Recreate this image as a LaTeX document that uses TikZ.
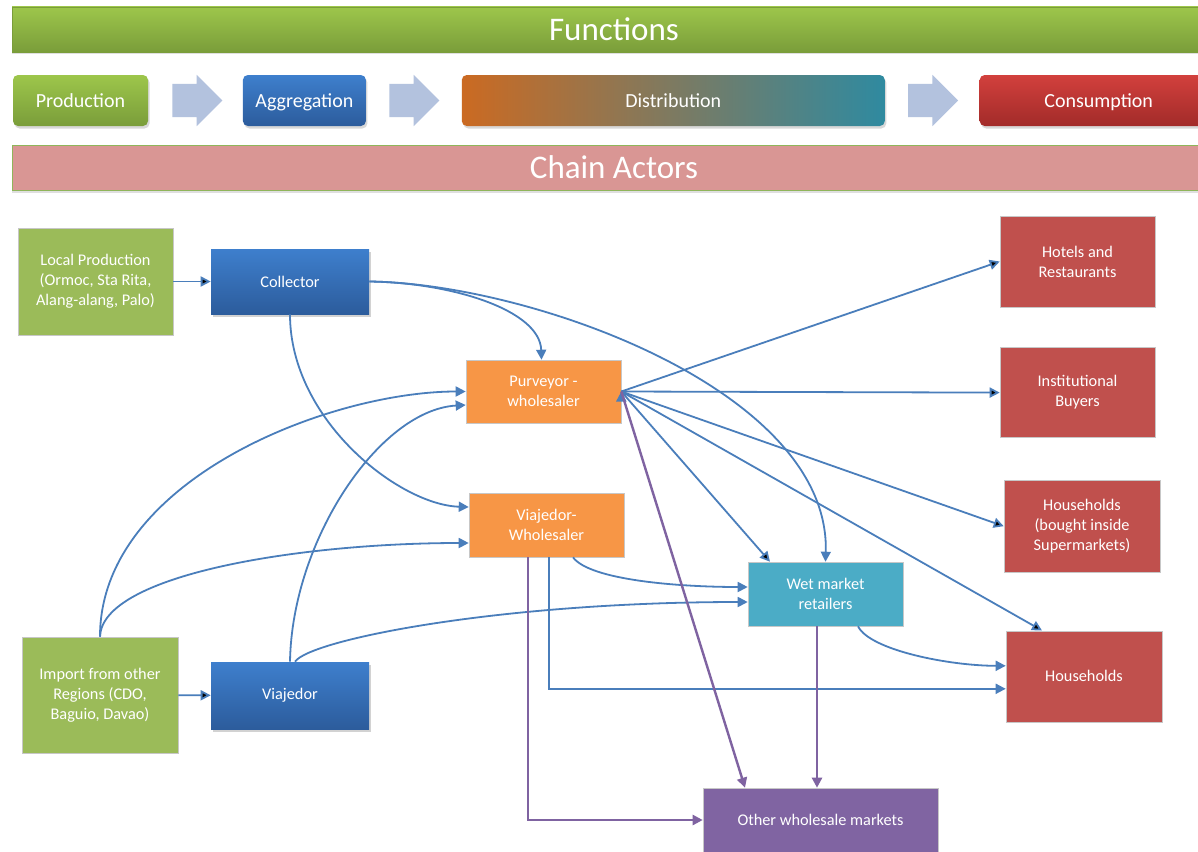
\documentclass[tikz,border=0pt]{standalone}
\usepackage{fontspec}
\setmainfont{Carlito}
\usepackage{xcolor}
\usetikzlibrary{arrows.meta,positioning,shapes.arrows,shadows}

\definecolor{flowblue}{HTML}{4A7EBB}
\definecolor{flowpurple}{HTML}{7F63A1}
\definecolor{prodgreen}{HTML}{9BBB59}
\definecolor{greentop}{HTML}{9DC64B}
\definecolor{greenbot}{HTML}{7A9D3A}
\definecolor{bluetop}{HTML}{3E7FCD}
\definecolor{bluebot}{HTML}{2C5C9C}
\definecolor{redtop}{HTML}{D2403D}
\definecolor{redbot}{HTML}{A22B29}
\definecolor{distorange}{HTML}{CB6A22}
\definecolor{distgray}{HTML}{877E7D}
\definecolor{distteal}{HTML}{2F8AA0}
\definecolor{arrowfill}{HTML}{B3C2DE}
\definecolor{actorpink}{HTML}{D99694}
\definecolor{bannerline}{HTML}{8FB55A}
\definecolor{wholeorange}{HTML}{F79646}
\definecolor{wetteal}{HTML}{4BACC6}
\definecolor{consred}{HTML}{C0504D}
\definecolor{otherpurple}{HTML}{8064A2}

\tikzset{>={Triangle[length=10pt,width=10pt]}}
\tikzset{actor node/.style={rectangle,draw=black!22,line width=0.6pt,text=white,align=center,inner sep=0pt,
            minimum width=155pt,font=\fontsize{16.3}{20}\selectfont},
         blue node/.style={actor node,draw=none,top color=bluetop,bottom color=bluebot,minimum width=158pt,
            drop shadow={shadow xshift=1.5pt,shadow yshift=-2.5pt,opacity=0.35}},
         func node/.style={rectangle,rounded corners=5pt,minimum height=51pt,inner sep=0pt,text=white,
            text height=18pt,text depth=4.5pt,
            font=\fontsize{20}{24}\selectfont,drop shadow={shadow xshift=1.5pt,shadow yshift=-2.5pt,opacity=0.3}},
         func arrow/.style={single arrow,fill=arrowfill,minimum height=50pt,inner xsep=0pt,inner ysep=16.5pt,
            single arrow head extend=9pt},
         banner/.style={rectangle,minimum width=1204pt,minimum height=45pt,inner sep=0pt,text=white,
            font=\fontsize{33}{36}\selectfont,drop shadow={shadow xshift=0pt,shadow yshift=-2.5pt,opacity=0.25}},
         flow/.style={draw=flowblue,line width=1.8pt},
         purple flow/.style={draw=flowpurple,line width=2.4pt},
            }

\begin{document}
\begin{tikzpicture}[x=1pt,y=1pt]

    \useasboundingbox[fill=white] (0,0) rectangle (1198,-851);

    % functions
    \node[banner,draw=greenbot,top color=greentop,bottom color=greenbot] (func) at (614,-29.5) {Functions};
    \node[func node,minimum width=135pt,top color=greentop,bottom color=greenbot] (prod) at (80.5,-100.5) {Production};
    \node[func arrow] (a1) [right=24pt of prod] {};
    \node[func node,minimum width=123pt,top color=bluetop,bottom color=bluebot] (aggr) [right=20pt of a1] {Aggregation};
    \node[func arrow] (a2) [right=23pt of aggr] {};
    \node[func node,minimum width=423pt,left color=distorange,middle color=distgray,right color=distteal] (dist) [right=22pt of a2] {Distribution};
    \node[func arrow] (a3) [right=23pt of dist] {};
    \node[func node,minimum width=238pt,top color=redtop,bottom color=redbot] (cons) [right=21pt of a3] {Consumption};

    % chain actors
    \node[banner,draw=bannerline,fill=actorpink] (chain) at (614,-167.5) {Chain Actors};

    \node[actor node,fill=prodgreen,minimum height=107pt] (local) at (95.5,-281.5) {Local Production\\(Ormoc, Sta Rita,\\Alang-alang, Palo)};
    \node[blue node,minimum height=65pt] (collector) at (290,-281.5) {Collector};
    \node[actor node,fill=prodgreen,minimum width=156pt,minimum height=116pt] (import) at (100,-695) {Import from other\\Regions (CDO,\\Baguio, Davao)};
    \node[blue node,minimum height=67pt] (viaj) at (290,-695.5) {Viajedor};

    \node[actor node,fill=wholeorange,minimum height=63pt] (purv) at (543.5,-391.5) {Purveyor -\\wholesaler};
    \node[actor node,fill=wholeorange,minimum height=64pt] (viawh) at (546.5,-525) {Viajedor-\\Wholesaler};
    \node[actor node,fill=wetteal,minimum height=64pt] (wet) at (825.5,-594) {Wet market\\retailers};
    \node[actor node,fill=otherpurple,minimum width=235pt,minimum height=64pt] (other) at (820.5,-820) {Other wholesale markets};

    \node[actor node,fill=consred,minimum height=91pt] (hotels) at (1077.5,-261.5) {Hotels and\\Restaurants};
    \node[actor node,fill=consred,minimum height=90pt] (inst) [below=40pt of hotels] {Institutional\\Buyers};
    \node[actor node,fill=consred,minimum width=156pt,minimum height=92pt] (hhsm) [below=42pt of inst,xshift=4.5pt] {Households\\(bought inside\\Supermarkets)};
    \node[actor node,fill=consred,minimum width=156pt,minimum height=91pt] (hh) [below=58pt of hhsm,xshift=2pt] {Households};

    % straight links
    \path[flow,->]
    (local) edge (collector)
    (import) edge (viaj)
    (purv.east) edge (hotels.west)
    (purv.east) edge (inst.west)
    (purv.east) edge (hhsm.west)
    (purv.east) edge ([xshift=-42pt]hh.north)
    (purv.east) edge ([xshift=-55.5pt]wet.north);

    % curved links
    \draw[flow,->] (collector.east) .. controls +(81,-1) and +(-1.5,50) .. ([xshift=-2pt]purv.north);
    \draw[flow,->] (collector.east) .. controls +(162,-2) and +(5,171) .. (wet.north);
    \draw[flow,->] (collector.south) .. controls +(0,-106) and +(-69,2) .. ([yshift=18pt]viawh.west);
    \draw[flow,->] (import.north) .. controls +(0,157) and +(-136,0) .. (purv.west);
    \draw[flow,->] (import.north) .. controls +(2,62) and +(-169,0) .. ([yshift=-18pt]viawh.west);
    \draw[flow,->] (viaj.north) .. controls +(2,122) and +(-86,-5) .. ([yshift=-13.5pt]purv.west);
    \draw[flow,->] ([xshift=5pt]viaj.north) .. controls +(15,22) and +(-248,0) .. ([yshift=-8pt]wet.west);
    \draw[flow,->] ([xshift=26.5pt]viawh.south) .. controls +(17,-23) and +(-68,0) .. ([yshift=7pt]wet.west);
    \draw[flow,->] ([xshift=32.5pt]wet.south) .. controls +(12,-24) and +(-56,0) .. ([yshift=10.5pt]hh.west);
    \draw[flow,->] ([xshift=2.5pt]viawh.south) |- ([yshift=-12.5pt]hh.west);

    % to other markets
    \draw[purple flow,->] (purv.east) -- ([xshift=-75.5pt]other.north);
    \draw[purple flow,->] ([xshift=-8.5pt]wet.south) -- ([xshift=-8.5pt]wet.south |- other.north);
    \draw[purple flow,->] ([xshift=-18.5pt]viawh.south) |- (other.west);

\end{tikzpicture}
\end{document}
